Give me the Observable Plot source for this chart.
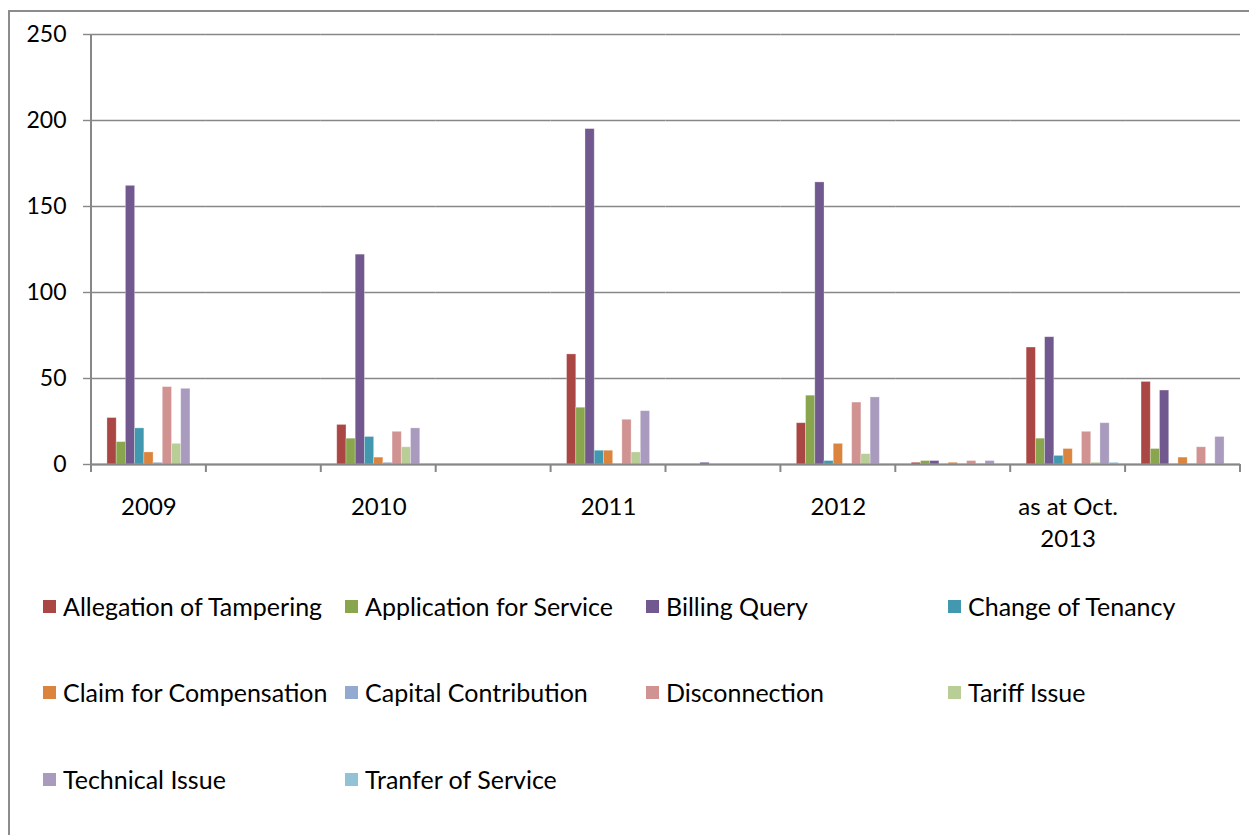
<!DOCTYPE html>
<html>
<head>
<meta charset="utf-8">
<script src="https://cdn.jsdelivr.net/npm/d3@7"></script>
<script src="https://cdn.jsdelivr.net/npm/@observablehq/plot@0.6"></script>
<style>
  html, body { margin: 0; padding: 0; background: #fff; }
  #wrap { position: relative; width: 1249px; height: 835px; overflow: hidden; font-family: Lato, "Open Sans", sans-serif; }
  #border { position: absolute; left: 8px; top: 10px; width: 1400px; height: 1000px; border-left: 2px solid #8c8c8c; border-top: 2px solid #8c8c8c; }
  #chart { position: absolute; left: 0; top: 0; }
  .leg { position: absolute; display: flex; align-items: center; font-size: 25px; color: #000; white-space: nowrap; }
  .sw { width: 13px; height: 13px; margin-right: 7px; flex: none; }
</style>
</head>
<body>
<div id="wrap">
  <div id="border"></div>
  <div id="chart"></div>
  <div id="legend"></div>
</div>
<script>
// ---- data ----
const categories = ["2009", "cat2", "2010", "cat4", "2011", "cat6", "2012", "cat8", "as at Oct. 2013", "cat10"];
const categoryLabels = ["2009", "", "2010", "", "2011", "", "2012", "", "as at Oct.\n2013", ""];
const series = [
  "Allegation of Tampering", "Application for Service", "Billing Query", "Change of Tenancy",
  "Claim for Compensation", "Capital Contribution", "Disconnection", "Tariff Issue",
  "Technical Issue", "Tranfer of Service"
];
// the source chart has an unnamed, empty first series that still takes a slot in each group
const slots = ["(unnamed)", ...series];
const colors = ["#AA4643", "#89A54E", "#71588F", "#4198AF", "#DB843D", "#93A9CF", "#D19392", "#B9CD96", "#A99BBD", "#92C3D4"];

const allegation   = [27, 0, 23, 0, 64, 0, 24, 1, 68, 48];
const application  = [13, 0, 15, 0, 33, 0, 40, 2, 15, 9];
const billing      = [162, 0, 122, 0, 195, 1, 164, 2, 74, 43];
const tenancy      = [21, 0, 16, 0, 8, 0, 2, 0, 5, 0];
const compensation = [7, 0, 4, 0, 8, 0, 12, 1, 9, 4];
const capital      = [1, 0, 1, 0, 0, 0, 0, 0, 0, 0];
const disconnection= [45, 0, 19, 0, 26, 0, 36, 2, 19, 10];
const tariff       = [12, 0, 10, 0, 7, 0, 6, 0, 1, 0];
const technical    = [44, 0, 21, 0, 31, 0, 39, 2, 24, 16];
const transfer     = [0, 0, 0, 0, 0, 0, 0, 0, 1, 0];
const values = [allegation, application, billing, tenancy, compensation, capital, disconnection, tariff, technical, transfer];
const yTicks = [0, 50, 100, 150, 200, 250];

const data = [];
series.forEach((s, i) => categories.forEach((c, j) => data.push({category: c, series: s, value: values[i][j]})));

const grey = "#878787";
const plot = Plot.plot({
  width: 1249,
  height: 560,
  marginLeft: 91,
  marginRight: 9,
  marginTop: 34,
  marginBottom: 96,
  style: {fontFamily: "Lato, 'Open Sans', sans-serif", fontSize: "24px", color: "#000", background: "transparent", overflow: "visible"},
  fx: {domain: categories, padding: 0, round: false, label: null, axis: null},
  x: {domain: slots, paddingInner: 0, paddingOuter: 0.73, round: false, axis: null},
  y: {domain: [0, 250], axis: null},
  color: {domain: series, range: colors},
  marks: [
    Plot.gridY(yTicks, {stroke: grey, strokeOpacity: 1, strokeWidth: 1.4}),
    Plot.axisY(yTicks, {anchor: "left", tickSize: 8, tickPadding: 17, stroke: grey, strokeWidth: 1.4, fill: "#000", fontSize: 23, label: null}),
    Plot.axisFx({
      anchor: "bottom",
      tickSize: 0,
      tickPadding: 27,
      lineHeight: 1.35,
      fill: "#000",
      fontSize: 24,
      label: null,
      tickFormat: (d) => categoryLabels[categories.indexOf(d)]
    }),
    Plot.barY(data, {fx: "category", x: "series", y: "value", fill: "series", stroke: "#ffffff", strokeOpacity: 0.35, strokeWidth: 0.8}),
    Plot.ruleY([0], {stroke: grey, strokeWidth: 2})
  ]
});
document.getElementById("chart").appendChild(plot);

// boundary tick marks and left axis line, placed from Plot's own scales
const fx = plot.scale("fx");
const y = plot.scale("y");
const svg = d3.select(plot);
const y0 = y.apply(0);
const edges = categories.map((c) => fx.apply(c));
edges.push(fx.apply(categories[categories.length - 1]) + fx.bandwidth);
const g = svg.append("g").attr("stroke", grey).attr("stroke-width", 2);
edges.forEach((ex) => g.append("line").attr("x1", ex).attr("x2", ex).attr("y1", y0).attr("y2", y0 + 8));
g.append("line").attr("x1", edges[0]).attr("x2", edges[0]).attr("y1", y.apply(250)).attr("y2", y0);

// legend
const legendCols = [43, 345, 646, 948];
const legendRows = [606, 692, 779];
const legend = document.getElementById("legend");
series.forEach((s, i) => {
  const div = document.createElement("div");
  div.className = "leg";
  div.style.left = legendCols[i % 4] + "px";
  div.style.top = (legendRows[Math.floor(i / 4)] - 15) + "px";
  div.style.height = "30px";
  div.innerHTML = `<span class="sw" style="background:${colors[i]}"></span><span>${s}</span>`;
  legend.appendChild(div);
});
</script>
</body>
</html>
